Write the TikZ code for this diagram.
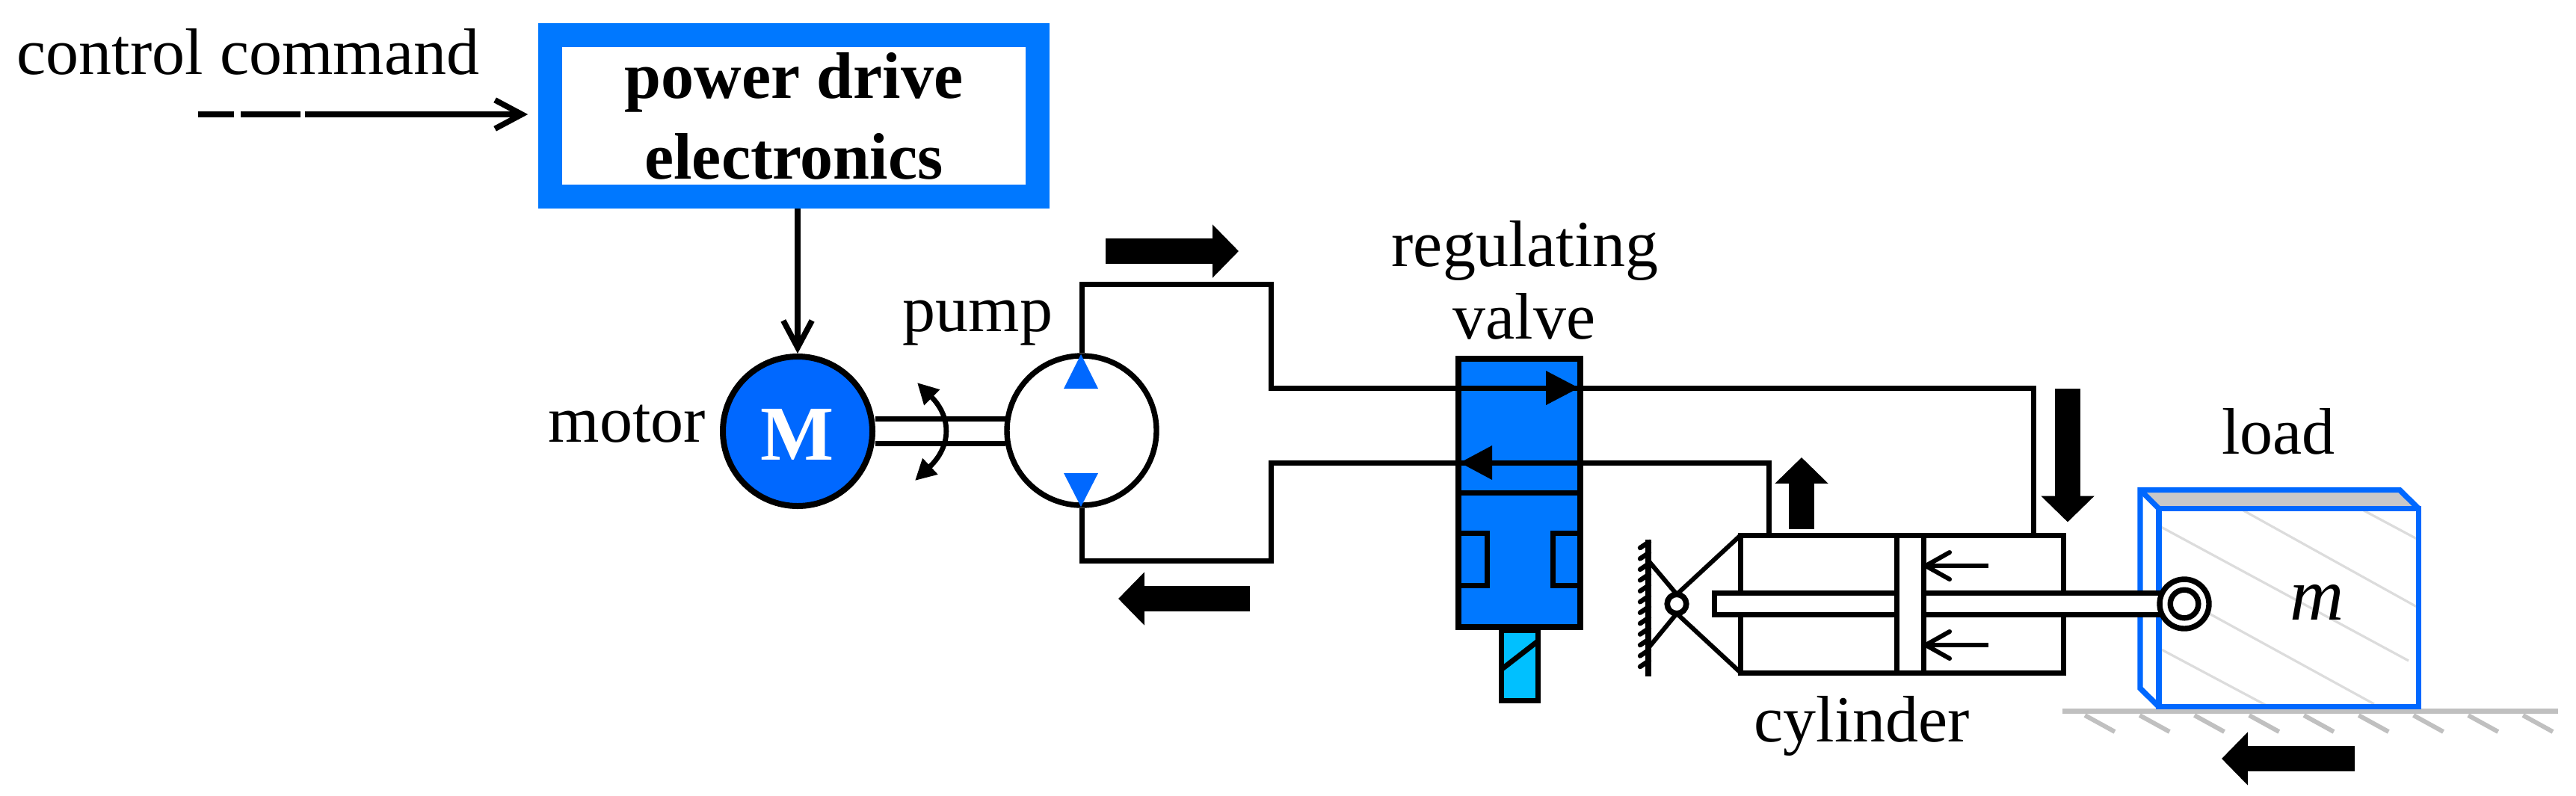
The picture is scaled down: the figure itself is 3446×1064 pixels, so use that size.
\documentclass[tikz,border=0pt]{standalone}
\usepackage{fontspec}
\setmainfont{Liberation Serif}
\usetikzlibrary{arrows.meta}
\definecolor{boxblue}{HTML}{0078FF}
\definecolor{motorblue}{HTML}{0068FF}
\definecolor{solblue}{HTML}{00C0FF}
\definecolor{hatchgrey}{HTML}{DCDCDC}
\definecolor{topgrey}{HTML}{C8C8C8}
\definecolor{groundgrey}{HTML}{C0C0C0}
\tikzset{
  x=0.25pt,y=-0.25pt,
  every node/.style={inner sep=0pt,outer sep=0pt},
  lbl/.style={anchor=base,font=\fontsize{22}{27}\selectfont},
  ln/.style={draw=black,line width=1.75pt,line join=miter},
  signal/.style={draw=black,line width=1.9pt,-{Straight Barb[length=9pt,width=9.6pt,line width=1.9pt]}},
  smallarrow/.style={draw=black,line width=1.5pt,-{Straight Barb[length=8pt,width=9pt,line width=1.5pt,round]}},
  fatarrow/.style={draw=black,line width=8.5pt,-{Triangle[length=8.7pt,width=17.25pt]}},
  rotarrow/.style={draw=black,line width=1.7pt,{Triangle[length=7pt,width=7pt]}-{Triangle[length=7pt,width=7pt]}},
  hatchline/.style={draw=hatchgrey,line width=0.8pt},
  bluewall/.style={draw=motorblue,line width=1.85pt,line join=miter},
  groundline/.style={draw=groundgrey,line width=1.75pt},
  groundtick/.style={draw=groundgrey,line width=1.5pt},
}
\begin{document}
\begin{tikzpicture}
\useasboundingbox (0,0) rectangle (3446,1064);
% power drive electronics
\node[draw=boxblue,fill=white,line width=8pt,minimum width=162.9pt,minimum height=54pt,outer sep=4pt,
      align=center,font=\fontsize{22}{27}\selectfont\bfseries] (box) at (1062,155) {power drive\\electronics};
\node[lbl] (ctllabel) at (332,99) {control command};
\coordinate (ctlstart) at (265,153);
\draw[signal,dash pattern=on 12pt off 2.25pt on 20pt off 1.5pt on 200pt off 0pt,shorten >=3.5pt] (ctlstart) -- (ctlstart -| box.west);
% motor
\node[circle,draw=black,fill=motorblue,line width=2pt,minimum size=50pt,outer sep=1pt] (motor) at (1067,577) {};
\node[anchor=base,text=white,font=\fontsize{26}{30}\selectfont\bfseries] (mlabel) at (1067,615) {M};
\node[lbl] (motorlabel) at (839,591) {motor};
\draw[signal] (motor.north |- box.south) -- (motor.north);
% pump
\node[circle,draw=black,fill=white,line width=1.85pt,minimum size=50pt,outer sep=0.9pt] (pump) at (1447,576) {};
\node[lbl] (pumplabel) at (1308,443) {pump};
\coordinate (shaftA1) at (1171,560); \coordinate (shaftA2) at (1345,560);
\coordinate (shaftB1) at (1171,593); \coordinate (shaftB2) at (1345,593);
\draw[ln] (shaftA1) -- (shaftA2);
\draw[ln] (shaftB1) -- (shaftB2);
\coordinate (rotA) at (1227,512); \coordinate (rotB) at (1224,643);
\draw[rotarrow] (rotA) .. controls (1273,558) and (1273,597) .. (rotB);
% valve
\node[draw=black,fill=boxblue,line width=2pt,minimum width=40.75pt,minimum height=89.75pt] (valve) at (2032.5,659.5) {};
\draw[ln] (valve.west |- 0,659) -- (valve.east |- 0,659);
\draw[ln] (1951,713) -- (1989,713) -- (1989,783) -- (1951,783);
\draw[ln] (2114,713) -- (2077,713) -- (2077,783) -- (2114,783);
\node[draw=black,fill=solblue,line width=1.75pt,minimum width=12.25pt,minimum height=23.5pt] (sol) at (2032.5,890) {};
\draw[ln] (sol.west |- 0,896) -- (sol.east |- 0,858);
\node[lbl] (reglabel) at (2040,356) {regulating};
\node[lbl] (valvelabel) at (2039,453) {valve};
% cylinder
\node[draw=black,fill=white,line width=1.75pt,minimum width=108pt,minimum height=46pt] (cyl) at (2544.5,808) {};
\node[lbl] (cyllabel) at (2491,992) {cylinder};
% mount
\coordinate (wallTop) at (2205,722); \coordinate (wallBot) at (2205,905);
\coordinate (wallA) at (2205,750); \coordinate (wallB) at (2205,867);
\foreach \i in {0,...,11} \draw[draw=black,line width=1.6pt,line cap=round] (2206,{725+14.45*\i}) -- ++(-12,8);
\draw[draw=black,line width=2pt] (wallTop) -- (wallBot);
\node[circle,draw=black,fill=white,line width=1.9pt,minimum size=6.4pt] (piv) at (2243,808) {};
\draw[ln,line width=1.5pt] (cyl.north west) -- (piv.north);
\draw[ln,line width=1.5pt] (cyl.south west) -- (piv.south);
\draw[ln,line width=1.5pt] (wallA) -- (piv.north);
\draw[ln,line width=1.5pt] (wallB) -- (piv.south);
% load
\fill[topgrey] (2863,655) -- (3210,655) -- (3236,681) -- (2888,681) -- cycle;
\draw[hatchline] (2889,704) -- (3222,884);
\draw[hatchline] (3001,683) -- (3235,813);
\draw[hatchline] (3162,683) -- (3235,722);
\draw[hatchline] (2889.5,868) -- (3036,946);
\draw[hatchline] (2950,818) -- (3176,942);
\draw[groundline] (2759,951.5) -- (3422,951.5);
\foreach \i in {0,...,8} \draw[groundtick] ({2789+73.25*\i},957) -- ++(40,22);
\draw[bluewall] (2888,945.5) -- (2863,921) -- (2863,655.5) -- (3210,655.5) -- (3235.5,680.5);
\draw[bluewall] (2863,655.5) -- (2888,680.5);
\node[draw=motorblue,line width=1.85pt,minimum width=86.9pt,minimum height=66.25pt] (front) at (3061.75,813) {};
\node[lbl] (loadlabel) at (3048,607) {load};
\node[anchor=base,font=\fontsize{25}{30}\selectfont\itshape] (mass) at (3100,829) {m};
% rod and piston
\coordinate (rodL) at (2293,793.5); \coordinate (rodR) at (2900,822);
\draw[ln,fill=white] (2900,793.5) -- (rodL) -- (2293,822) -- (rodR);
\fill[white] (2297,797) rectangle (2900,818.5);
\node[draw=black,fill=white,line width=1.75pt,minimum width=9pt,minimum height=46pt] (piston) at (2555,808) {};
\node[circle,draw=black,fill=white,line width=1.85pt,minimum size=16.5pt] (eye) at (2922,808) {};
\node[circle,draw=black,fill=white,line width=1.85pt,minimum size=9.4pt] (eyein) at (eye) {};
% small arrows in cylinder
\coordinate (sa1) at (2660,757); \coordinate (sa2) at (2660,863);
\draw[smallarrow] (sa1) -- (sa1 -| piston.east);
\draw[smallarrow] (sa2) -- (sa2 -| piston.east);
% pipes
\coordinate (tA) at (1700,380); \coordinate (tB) at (1700,519); \coordinate (tC) at (2720,519);
\coordinate (bA) at (1700,750); \coordinate (bB) at (1700,619); \coordinate (bC) at (2366,619);
\draw[ln] (pump.north) |- (tA) -- (tB) -- (tC) -- (tC |- cyl.north);
\draw[ln] (pump.south) |- (bA) -- (bB) -- (bC) -- (bC |- cyl.north);
% valve arrowheads
\fill[black] (2068,496) -- (2112,519) -- (2068,542) -- cycle;
\fill[black] (1996,596) -- (1953,619) -- (1996,642) -- cycle;
% pump triangles
\fill[motorblue] (1446,474) -- (1469,520) -- (1423,520) -- cycle;
\fill[motorblue] (1446,678) -- (1469,633) -- (1423,633) -- cycle;
% flow arrows
\coordinate (fa1) at (1479,336); \coordinate (fa2) at (1657,336);
\coordinate (fb1) at (1672,801); \coordinate (fb2) at (1496,801);
\coordinate (fc1) at (2410,707.5); \coordinate (fc2) at (2410,612);
\coordinate (fd1) at (2766,520); \coordinate (fd2) at (2766,698.5);
\coordinate (fe1) at (3150,1015); \coordinate (fe2) at (2972,1015);
\draw[fatarrow] (fa1) -- (fa2);
\draw[fatarrow] (fb1) -- (fb2);
\draw[fatarrow] (fc1) -- (fc2);
\draw[fatarrow] (fd1) -- (fd2);
\draw[fatarrow] (fe1) -- (fe2);
\end{tikzpicture}
\end{document}
